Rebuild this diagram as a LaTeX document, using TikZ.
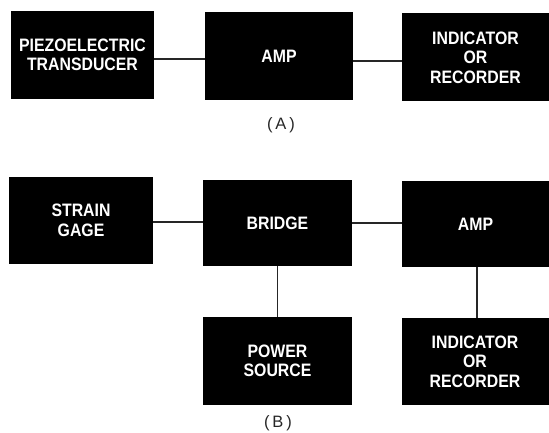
\documentclass[tikz,border=0pt]{standalone}
\usepackage{fontspec}
\setmainfont{Liberation Sans}
\newfontfamily\boxfont[FakeStretch=0.88]{Liberation Sans}
\newfontfamily\labfont[LetterSpace=18]{Liberation Sans}
\begin{document}
\begin{tikzpicture}[x=1pt,y=-1pt,
  blk/.style={fill=black, text=white, inner sep=0pt, align=center,
    minimum width=147pt, minimum height=88pt,
    font=\boxfont\bfseries\fontsize{18}{19.5}\selectfont},
  wire/.style={line width=1.3pt, draw=black!85},
  figlabel/.style={font=\labfont\fontsize{16.5}{16.5}\selectfont, text=black!85}]
\useasboundingbox (0,0) rectangle (549,433);
% (A)
\node[blk, minimum width=143pt] (a1) at (82.5,55) {PIEZOELECTRIC\\TRANSDUCER};
\node[blk, minimum width=148pt] (a2) at (279,56) {AMP};
\node[blk] (a3) at (475.5,57.5) {INDICATOR\\OR\\RECORDER};
\node[figlabel] (la) at (281,125) {(A)};
\draw[wire] (a1.east |- 0,59) -- (a2.west |- 0,59);
\draw[wire] (a2.east |- 0,61) -- (a3.west |- 0,61);
% (B)
\node[blk, minimum width=144pt, minimum height=87pt] (b1) at (81,220.5) {STRAIN\\GAGE};
\node[blk, minimum width=149pt, minimum height=86pt] (b2) at (277.5,223) {BRIDGE};
\node[blk, minimum height=86pt] (b3) at (475.5,224) {AMP};
\node[blk, minimum width=149pt] (b4) at (277.5,361) {POWER\\SOURCE};
\node[blk, minimum height=87pt] (b5) at (475,361.5) {INDICATOR\\OR\\RECORDER};
\node[figlabel] (lb) at (278,423) {(B)};
\draw[wire] (b1.east |- 0,222) -- (b2.west |- 0,222);
\draw[wire] (b2.east |- 0,223) -- (b3.west |- 0,223);
\draw[wire] (b2) -- (b4);
\draw[wire] (b3.south -| 477,0) -- (b5.north -| 477,0);
\end{tikzpicture}
\end{document}
